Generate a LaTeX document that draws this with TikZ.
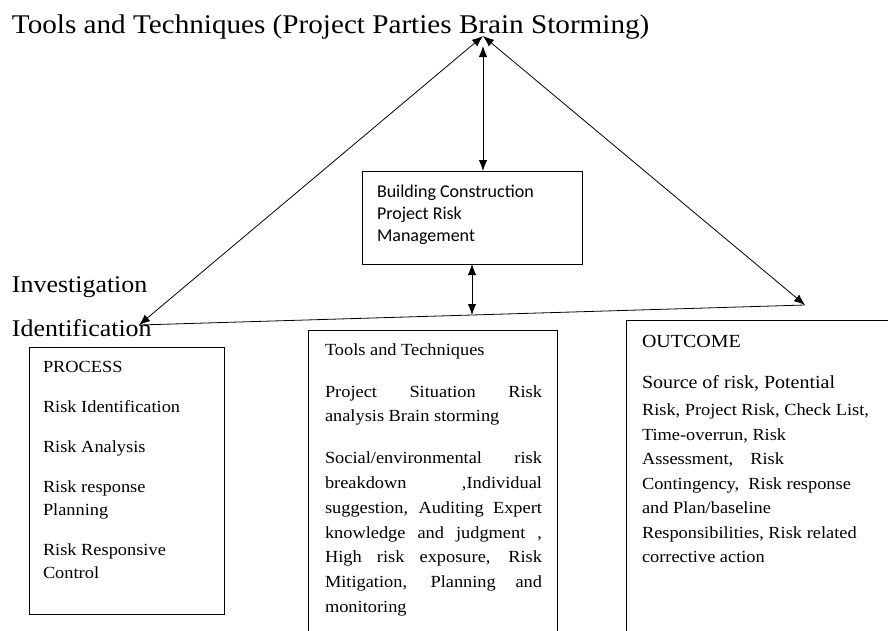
\documentclass[tikz,border=0pt]{standalone}
\usepackage{fontspec}
\setmainfont[FakeStretch=1.08]{Liberation Serif}
\newfontfamily\calfont{Carlito}
\setlength{\parindent}{0pt}
\usetikzlibrary{arrows.meta,positioning,calc}

\begin{document}
\begin{tikzpicture}[x=1pt,y=-1pt,
  every node/.style={inner sep=0pt,outer sep=0pt},
  frame/.style={draw,line width=0.9pt,anchor=north west},
  dbl/.style={{Latex[length=11pt,width=8.5pt]}-{Latex[length=11pt,width=8.5pt]},line width=0.8pt},
  body/.style={anchor=north west,font=\fontsize{17}{23}\selectfont}]
  \useasboundingbox (0,0) rectangle (888,630);
  \clip (0,0) rectangle (888,630);

  \node[anchor=base west,font=\fontsize{27}{30}\selectfont] (title) at (12,33) {Tools and Techniques (Project Parties Brain Storming)};
  \node[anchor=base west,font=\fontsize{24}{28}\selectfont] (invest) at (12,292) {Investigation};
  \node[anchor=base west,font=\fontsize{24}{28}\selectfont] (ident) at (12,336) {Identification};

  \coordinate (apex) at (483,36);
  \coordinate (toptip) at (483,46);
  \coordinate (idtip) at (139,325);
  \coordinate (outtip) at (805,305);
  \coordinate (mid) at ($(idtip)!0.5!(outtip)$);

  \node[frame,minimum width=220,minimum height=93] (cbox) at (362,171) {};
  \node[anchor=north west,align=left,font=\calfont\fontsize{18}{22}\selectfont] (ctext) at (377,184.5)
    {Building Construction\\ Project Risk\\ Management};

  \node[frame,minimum width=195,minimum height=267] (procbox) at (29,347) {};
  \node[body,align=left] (ptext) at (43,361)
    {PROCESS\\[17pt] Risk Identification\\[17pt] Risk Analysis\\[17pt] Risk response\\ Planning\\[17pt] Risk Responsive\\ Control};

  \node[frame,minimum width=249,minimum height=320] (toolbox) at (308,330) {};
  \node[body,text width=217,align=justify,font=\fontsize{17}{23.5}\selectfont] (ttext) at (325,344)
    {Tools and Techniques\par\vspace{18.5pt}
     Project Situation Risk\linebreak analysis Brain storming\par\vspace{17.5pt}
     \fontsize{17}{24.8}\selectfont
     Social/environmental risk\linebreak breakdown ,Individual\linebreak suggestion, Auditing Expert\linebreak knowledge and judgment ,\linebreak High risk exposure, Risk\linebreak Mitigation, Planning and\linebreak monitoring\par};

  \node[frame,minimum width=300,minimum height=330] (outbox) at (626,320) {};
  \node[anchor=base west,font=\fontsize{18.5}{22}\selectfont] (outhead) at (642,347) {OUTCOME};
  \node[body,align=left,font=\fontsize{17}{24.5}\selectfont] (otext) at (642,375.5)
    {{\fontsize{18.5}{24.5}\selectfont Source of risk, Potential}\\[2.5pt] Risk, Project Risk, Check List,\\ Time-overrun, Risk\\ Assessment,\quad Risk\\ Contingency,\ \ Risk response\\ and Plan/baseline\\ Responsibilities, Risk related\\ corrective action};

  \draw[dbl] (apex) -- (idtip);
  \draw[dbl] (apex) -- (outtip);
  \draw[line width=0.8pt] (idtip) -- (outtip);
  \draw[dbl] (toptip) -- (cbox.north -| toptip);
  \draw[dbl] (cbox.south -| mid) -- (mid);
\end{tikzpicture}
\end{document}
